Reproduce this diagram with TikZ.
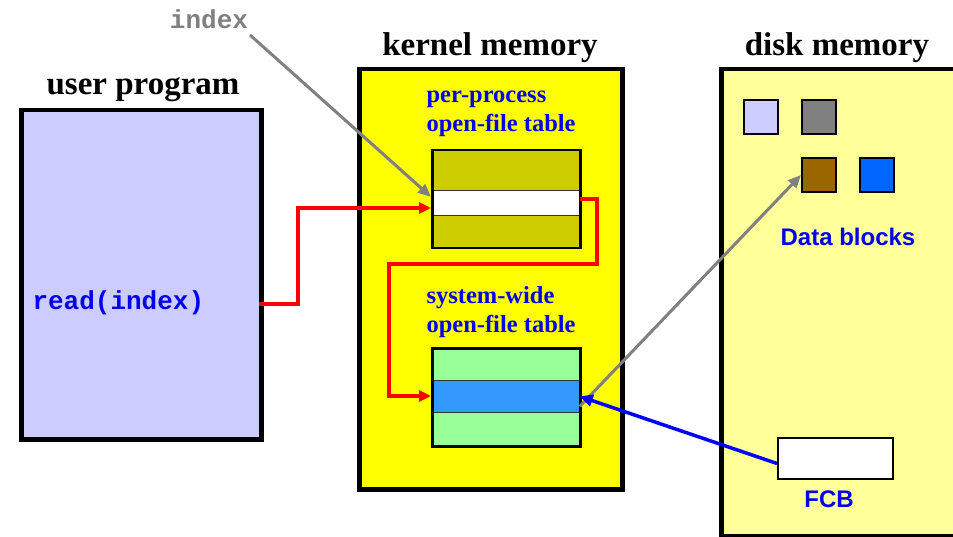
\documentclass[tikz,border=0pt]{standalone}
\usepackage{fontspec}
\setmainfont{Liberation Serif}
\setsansfont{Liberation Sans}
\setmonofont{Liberation Mono}
\usetikzlibrary{arrows.meta}
\definecolor{userfill}{HTML}{CCCCFF}
\definecolor{kernfill}{HTML}{FFFF00}
\definecolor{diskfill}{HTML}{FFFF99}
\definecolor{olive}{HTML}{CCCC00}
\definecolor{lgreen}{HTML}{99FF99}
\definecolor{bband}{HTML}{3399FF}
\definecolor{brownb}{HTML}{996600}
\definecolor{blueb}{HTML}{0066FF}
\definecolor{grayb}{HTML}{808080}
\definecolor{txtblue}{HTML}{0000EE}
\tikzset{
  bigbox/.style={draw=black, line width=4.5pt, anchor=north west, inner sep=0pt, rectangle},
  stripe/.style={anchor=north west, inner sep=0pt, rectangle, draw=black!80, line width=0.8pt},
  frame/.style={draw=black, line width=2.5pt, anchor=north west, inner sep=0pt, rectangle},
  blk/.style={draw=black, line width=2pt, anchor=north west, inner sep=0pt, rectangle, minimum width=34pt, minimum height=34pt},
  title/.style={font=\fontsize{33}{36}\selectfont\bfseries, text=black},
  tlabel/.style={font=\fontsize{24.5}{29}\selectfont\bfseries, text=txtblue, align=left, anchor=west},
  redarrow/.style={draw=red, line width=4.5pt, -{Triangle[length=12pt,width=11pt]}},
  grayarrow/.style={draw=grayb, line width=3pt, -{Triangle[length=13pt,width=11pt]}},
  bluearrow/.style={draw=blue, line width=3.5pt, -{Triangle[length=13pt,width=12pt]}},
}
\begin{document}
\begin{tikzpicture}[x=1pt,y=-1pt]
\useasboundingbox (0,0) rectangle (953,537);
% big boxes
\node[bigbox, fill=userfill, minimum width=240pt, minimum height=329pt] (user) at (19,108) {};
\node[bigbox, fill=kernfill, minimum width=263pt, minimum height=420pt] (kern) at (357,67) {};
\node[bigbox, fill=diskfill, minimum width=250pt, minimum height=467pt] (disk) at (719,67) {};
% titles
\node[title] (tuser) at (143,90) {user program};
\node[title] (tkern) at (490,48) {kernel memory};
\node[title] (tdisk) at (837,48) {disk memory};
% labels
\node[font=\fontsize{26}{28}\selectfont\ttfamily\bfseries, text=txtblue, anchor=west] (read) at (29,303) {read(index)};
\node[font=\fontsize{26}{28}\selectfont\ttfamily\bfseries, text=grayb] (idx) at (209,19) {index};
\node[tlabel] (lpp) at (423,114) {per-process\\open-file table};
\node[tlabel] (lsw) at (423,312) {system-wide\\open-file table};
% per-process table
\node[stripe, fill=olive, minimum width=148pt, minimum height=41pt] (pptop) at (431,149) {};
\node[stripe, fill=white, minimum width=148pt, minimum height=25pt] (ppmid) at (431,190) {};
\node[stripe, fill=olive, minimum width=148pt, minimum height=32pt] (ppbot) at (431,215) {};
\node[frame, minimum width=148pt, minimum height=98pt] (ppframe) at (431,149) {};
% system-wide table
\node[stripe, fill=lgreen, minimum width=148pt, minimum height=33pt] (swtop) at (431,347) {};
\node[stripe, fill=bband, minimum width=148pt, minimum height=32pt] (swmid) at (431,380) {};
\node[stripe, fill=lgreen, minimum width=148pt, minimum height=33pt] (swbot) at (431,412) {};
\node[frame, minimum width=148pt, minimum height=98pt] (swframe) at (431,347) {};
% disk blocks
\node[blk, fill=userfill] (b1) at (743,99) {};
\node[blk, fill=grayb] (b2) at (801,99) {};
\node[blk, fill=brownb] (b3) at (801,157) {};
\node[blk, fill=blueb] (b4) at (859,157) {};
\node[font=\fontsize{24}{26}\selectfont\sffamily\bfseries, text=txtblue] (ldb) at (848,237) {Data blocks};
\node[frame, fill=white, line width=2pt, minimum width=115pt, minimum height=41pt] (fcb) at (777,437) {};
\node[font=\fontsize{24}{26}\selectfont\sffamily\bfseries, text=txtblue] (lfcb) at (829,499) {FCB};
% connectors
\coordinate (rs) at (259,304);
\coordinate (c0) at (298,208);
\draw[redarrow] (rs) -| (c0) -- (c0 -| ppmid.west);
\coordinate (c1) at (597,264);
\coordinate (c2) at (389,396);
\draw[redarrow] ([yshift=4]ppmid.east) -| (c1) -| (c2) -- (c2 -| swmid.west);
\coordinate (is) at (250,35);
\draw[grayarrow] (is) -- ([yshift=6]ppmid.west);
\draw[grayarrow] ([yshift=-10]swmid.east) -- (b3.west);
\draw[bluearrow] ([yshift=-5]fcb.west) -- ([yshift=0]swmid.east);
\end{tikzpicture}
\end{document}
